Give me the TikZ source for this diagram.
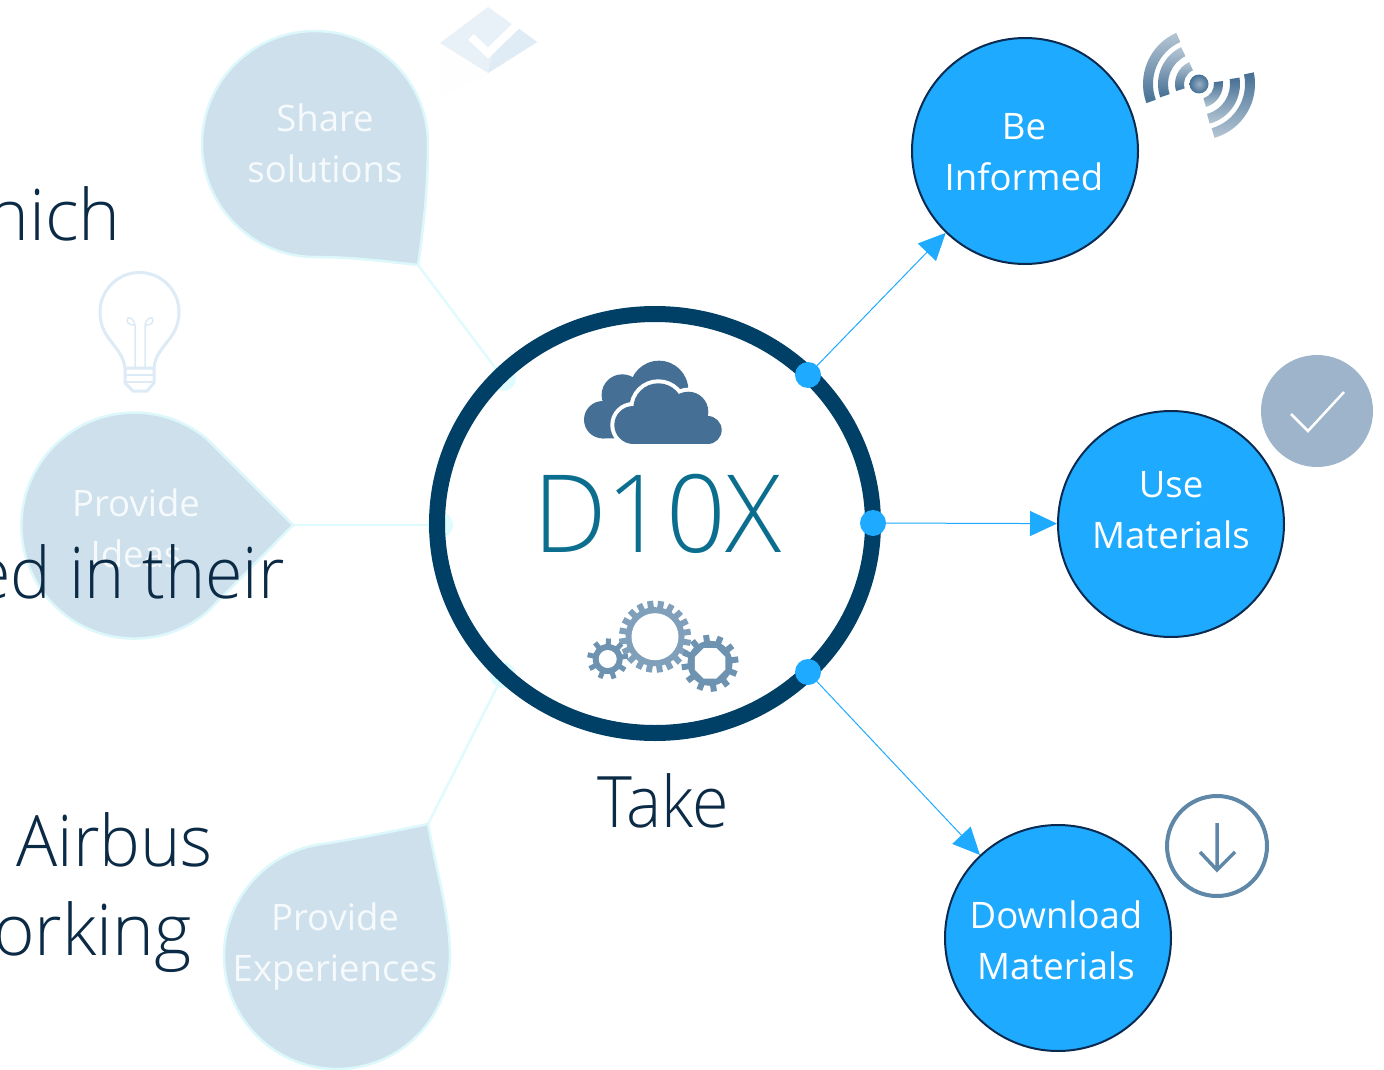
\documentclass[tikz,border=0pt]{standalone}
\usepackage{fontspec}
\setmainfont{Open Sans}
\newfontfamily\lightfont{Open Sans Light}
\usetikzlibrary{arrows.meta,shapes.geometric}
\definecolor{skyblue}{HTML}{1EAAFF}
\definecolor{navyline}{HTML}{0A2A50}
\definecolor{ringblue}{HTML}{003F66}
\definecolor{tealtext}{HTML}{0B6E8F}
\definecolor{darktext}{HTML}{0A2A45}
\definecolor{dropfill}{HTML}{CEE0EC}
\definecolor{dropedge}{HTML}{DCF8FB}
\definecolor{droptext}{HTML}{F6FAFC}
\definecolor{paleline}{HTML}{E0FBFD}
\definecolor{iconblue}{HTML}{456F94}
\definecolor{gearblue}{HTML}{7F9FBA}
\definecolor{gearblueb}{HTML}{6E93B0}
\definecolor{checkfill}{HTML}{9DB4CB}
\definecolor{bulbline}{HTML}{DCEBF5}
\definecolor{diamondfill}{HTML}{E8F1F8}
\definecolor{diamondshade}{HTML}{E0ECF5}
\definecolor{downblue}{HTML}{5E87A8}
\tikzset{
  x=1pt,y=1pt,
  actionnode/.style={circle,draw=navyline,line width=2pt,fill=skyblue,minimum size=226pt,inner sep=0pt},
  actionlabel/.style={text=white,font=\fontsize{36.5}{51}\selectfont,align=center},
  droplabel/.style={text=droptext,font=\fontsize{36.5}{51}\selectfont,align=center},
  bigtext/.style={text=darktext,font=\lightfont\fontsize{71}{90}\selectfont,inner sep=0pt},
  hubdot/.style={circle,fill=skyblue,minimum size=26pt,inner sep=0pt},
  fadedot/.style={circle,fill=paleline,minimum size=26pt,inner sep=0pt},
  arrowline/.style={draw=skyblue,line width=1pt,-{Triangle[length=27pt,width=25pt]}},
  fadeline/.style={draw=paleline,line width=2.5pt},
  dropshape/.style={fill=dropfill,draw=dropedge,line width=2.5pt},
  bulbstroke/.style={draw=bulbline,line width=3pt,line join=round}
}
% centre x,y ; root radius ; tip radius ; teeth ; tooth width ; colour
\newcommand{\gearwheel}[7]{%
  \fill[#7] (#1,#2) circle[radius=#3];
  \foreach \k in {1,...,#5}{
    \draw[#7,line width=#6] (#1,#2) ++({\k*360/#5+8}:#3-1) -- ++({\k*360/#5+8}:#4-#3+1);
  }
}
% centre x,y ; radii R outer r inner ; start ; end ; top colour ; bottom colour
\newcommand{\signalarc}[8]{%
  \shade[top color=#7,bottom color=#8]
    (#1,#2) ++(#5:#3) arc[start angle=#5,end angle=#6,radius=#3]
    -- ++(#6+180:#3-#4) arc[start angle=#6,end angle=#5,radius=#4] -- cycle;
}
\begin{document}
\begin{tikzpicture}
\useasboundingbox (0,-1070) rectangle (1384,0);
\clip (0,-1070) rectangle (1384,0);
\fill[white] (0,-1070) rectangle (1384,0);

% faded connectors
\coordinate (tipshare) at (418,-265);
\coordinate (tipideas) at (293,-525);
\coordinate (tipexp) at (428,-824);
\node[fadedot] (fadeshare) at (503,-378) {};
\node[fadedot] (fadeideas) at (440,-525) {};
\node[fadedot] (fadeexp) at (503,-675) {};
\draw[fadeline] (tipshare) -- (fadeshare);
\draw[fadeline] (tipideas) -- (fadeideas);
\draw[fadeline] (tipexp) -- (fadeexp);

% teardrops
\draw[dropshape] (428,-144) arc[start angle=0,end angle=270,radius=113]
  .. controls (355,-257) and (390,-262) .. (tipshare)
  .. controls (424,-225) and (428,-185) .. cycle;
\draw[dropshape] (207,-439) arc[start angle=50,end angle=310,radius=113]
  -- (tipideas) -- cycle;
\draw[dropshape] (450,-956) arc[start angle=360,end angle=100,radius=113]
  .. controls (350,-840) and (390,-832) .. (tipexp)
  .. controls (436,-870) and (450,-915) .. cycle;

\node[droplabel] (sharelabel) at (325,-143) {Share\\solutions};
\node[droplabel] (ideaslabel) at (136,-528) {Provide\\Ideas};
\node[droplabel] (explabel) at (335,-947) {Provide\\Experiences};

% diamond icon
\fill[white!97!diamondfill] (440,-43) -- (440,-97) -- (488,-73) -- cycle;
\fill[diamondfill] (440,-43) -- (488,-7) -- (537,-42) -- (488,-73) -- cycle;
\fill[diamondshade] (518,-28) -- (537,-42) -- (488,-73) -- (492,-56) -- cycle;
\draw[white,line width=8pt] (471,-37) -- (488,-53) -- (518,-24);

% bulb icon
\draw[bulbstroke] (125,-368) .. controls (122,-345) and (100,-340) .. (100,-312)
  arc[start angle=180,end angle=0,radius=39.5]
  .. controls (179,-340) and (156,-345) .. (154,-368);
\draw[bulbstroke] (125,-368) -- (154,-368) -- (154,-383) -- (147,-391) -- (133,-391) -- (125,-383) -- cycle;
\draw[bulbstroke,line width=2pt] (125,-375) -- (154,-375) (125,-382) -- (154,-382);
\draw[bulbstroke,line width=1.5pt] (135,-367) -- (135,-325)
  .. controls (133,-316) and (126,-316) .. (127,-321) .. controls (128,-325) and (133,-325) .. (135,-325);
\draw[bulbstroke,line width=1.5pt] (145,-367) -- (145,-325)
  .. controls (147,-316) and (154,-316) .. (153,-321) .. controls (152,-325) and (147,-325) .. (145,-325);

% overlaid large text
\node[bigtext,anchor=base east] (textwhich) at (121,-240) {hich};
\node[bigtext,anchor=base east,xscale=.96] (texttheir) at (285,-598) {ed in their};
\node[bigtext,anchor=base east,xscale=.965] (textairbus) at (213,-866) {Airbus};
\node[bigtext,anchor=base east] (textworking) at (192,-955) {orking};

% hub ring
\node[ellipse,draw=ringblue,line width=16pt,minimum width=436pt,minimum height=419pt,inner sep=0pt,outer sep=0pt] (hub) at (655,-523.5) {};
\node[text=tealtext,font=\lightfont\fontsize{108}{120}\selectfont,anchor=base,xscale=.965] (hubtitle) at (657.5,-552) {D10X};
\node[text=darktext,font=\lightfont\fontsize{71}{90}\selectfont,anchor=base,xscale=.935] (take) at (663,-827) {Take};

% cloud icon
\fill[iconblue] (602.7,-419.7) circle[radius=18.7] (622.3,-395) circle[radius=20.7] (659,-390) circle[radius=29.3];
\fill[iconblue] (602,-438.3) rectangle (640,-410) (618,-420) rectangle (680,-395);
\draw[white,line width=8pt,fill=white] (633.3,-425) circle[radius=19] (658.3,-408.3) circle[radius=25] (688.3,-411.7) circle[radius=20] (707.7,-430) circle[radius=14];
\draw[white,line width=8pt,fill=white] (633,-423) rectangle (707.7,-444);
\fill[iconblue] (633.3,-425) circle[radius=19] (658.3,-408.3) circle[radius=25] (688.3,-411.7) circle[radius=20] (707.7,-430) circle[radius=14];
\fill[iconblue] (633,-418) rectangle (707.7,-444);

% gear icon
\gearwheel{655}{-636.7}{29.5}{36}{20}{6pt}{gearblue}
\fill[white] (655,-636.7) circle[radius=23.5];
\fill[white] (710,-663.3) circle[radius=25];
\gearwheel{710}{-663.3}{22.5}{28.5}{12}{6pt}{gearblueb}
\fill[white,shift={(710,-663.3)}] (22.5:16.5) -- (67.5:16.5) -- (112.5:16.5) -- (157.5:16.5) -- (202.5:16.5) -- (247.5:16.5) -- (292.5:16.5) -- (337.5:16.5) -- cycle;
\fill[white] (607.7,-659) circle[radius=16.5];
\gearwheel{607.7}{-659}{15}{20.5}{9}{5pt}{gearblueb}
\fill[white] (607.7,-659) circle[radius=9];

% action nodes
\node[actionnode] (inform) at (1025,-151) {};
\node[actionnode] (use) at (1171,-524) {};
\node[actionnode] (download) at (1058,-938) {};
\node[actionlabel] (informlabel) at (1024,-152) {Be\\Informed};
\node[actionlabel] (uselabel) at (1171,-510) {Use\\Materials};
\node[actionlabel] (downloadlabel) at (1056,-940) {Download\\Materials};

% hub dots and arrows
\node[hubdot] (dotinform) at (808,-375) {};
\node[hubdot] (dotuse) at (873,-523) {};
\node[hubdot] (dotdownload) at (808,-672) {};
\draw[arrowline] (dotinform) -- (inform);
\draw[arrowline] (dotuse) -- (use);
\draw[arrowline] (dotdownload) -- (download);

% signal icon
\shade[inner color=iconblue!55,outer color=iconblue] (1199,-84) circle[radius=9.5];
\signalarc{1199}{-84}{24}{15}{114}{197}{iconblue!40}{iconblue}
\signalarc{1199}{-84}{41}{31}{116}{199}{iconblue!40}{iconblue}
\signalarc{1199}{-84}{56}{46}{114}{200}{iconblue!40}{iconblue}
\signalarc{1199}{-84}{24}{15}{7}{-73}{iconblue}{iconblue!40}
\signalarc{1199}{-84}{41}{31}{9}{-75}{iconblue}{iconblue!40}
\signalarc{1199}{-84}{56}{46}{12}{-74}{iconblue}{iconblue!40}

% check icon
\fill[checkfill] (1317,-411) circle[radius=56];
\draw[white,line width=2.5pt] (1291,-414) -- (1308,-431) -- (1344,-392);

% download icon
\draw[downblue,line width=4pt] (1217,-846) circle[radius=50];
\draw[downblue,line width=3.5pt] (1217,-823) -- (1217,-870) (1200,-852) -- (1217,-870) -- (1235,-852);
\end{tikzpicture}
\end{document}
